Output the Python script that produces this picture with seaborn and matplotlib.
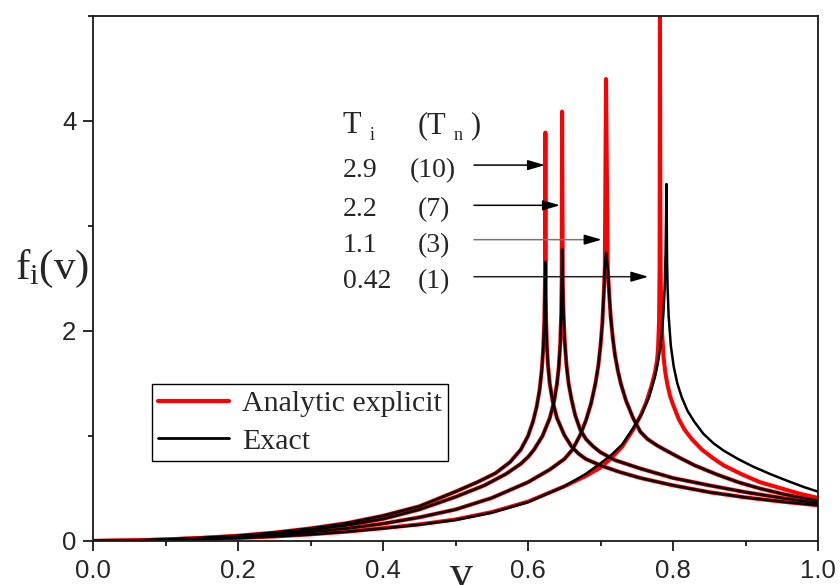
import matplotlib
matplotlib.use("Agg")
import matplotlib.pyplot as plt
from matplotlib.lines import Line2D
from matplotlib.ticker import MultipleLocator, FormatStrFormatter
import seaborn as sns

# ---------------- data ----------------
# Curve 1: Ti = 2.9 (Tn = 10)
v1 = [0.0, 0.05, 0.1, 0.15, 0.2, 0.25, 0.3, 0.35, 0.4, 0.45, 0.5, 0.53, 0.555, 0.575, 0.59,
      0.6, 0.607, 0.612, 0.616, 0.619, 0.621, 0.6225, 0.6235, 0.624, 0.6245, 0.625, 0.626,
      0.6275, 0.63, 0.634, 0.64, 0.65, 0.66, 0.67, 0.68, 0.7, 0.725, 0.755, 0.8, 0.85, 0.9,
      0.95, 1.0]
exact1 = [0.0, 0.005, 0.015, 0.03, 0.05, 0.08, 0.12, 0.17, 0.24, 0.33, 0.47, 0.56, 0.645, 0.75, 0.87,
          1.0, 1.14, 1.28, 1.44, 1.63, 1.83, 2.1, 2.5, 2.66, 2.35, 2.1, 1.87,
          1.68, 1.5, 1.33, 1.17, 1.01, 0.90, 0.83, 0.78, 0.72, 0.66, 0.60, 0.53, 0.465, 0.415,
          0.375, 0.34]
analytic1 = [0.0, 0.005, 0.015, 0.03, 0.05, 0.08, 0.12, 0.17, 0.24, 0.33, 0.47, 0.56, 0.645, 0.75, 0.87,
             1.0, 1.14, 1.28, 1.44, 1.63, 1.83, 2.1, 2.5, 3.89, 2.35, 2.1, 1.87,
             1.68, 1.5, 1.33, 1.17, 1.01, 0.90, 0.83, 0.78, 0.72, 0.66, 0.60, 0.53, 0.465, 0.415,
             0.375, 0.34]

# Curve 2: Ti = 2.2 (Tn = 7)
v2 = [0.0, 0.05, 0.1, 0.15, 0.2, 0.25, 0.3, 0.35, 0.4, 0.45, 0.5, 0.54, 0.57, 0.59, 0.6, 0.608,
      0.62, 0.63, 0.636, 0.64, 0.6425, 0.6445, 0.6458, 0.6465, 0.647, 0.648, 0.649, 0.6505,
      0.653, 0.656, 0.66, 0.665, 0.672, 0.68, 0.69, 0.7, 0.72, 0.755, 0.8, 0.85, 0.9, 0.95, 1.0]
exact2 = [0.0, 0.004, 0.014, 0.028, 0.046, 0.072, 0.107, 0.15, 0.21, 0.30, 0.42, 0.53, 0.64, 0.735, 0.80, 0.867,
          1.0, 1.17, 1.33, 1.5, 1.66, 1.88, 2.16, 2.48, 2.78, 2.45, 2.17, 1.92,
          1.68, 1.5, 1.35, 1.2, 1.06, 0.97, 0.90, 0.845, 0.77, 0.69, 0.60, 0.53, 0.465, 0.41, 0.36]
analytic2 = [0.0, 0.004, 0.014, 0.028, 0.046, 0.072, 0.107, 0.15, 0.21, 0.30, 0.42, 0.53, 0.64, 0.735, 0.80, 0.867,
             1.0, 1.17, 1.33, 1.5, 1.66, 1.88, 2.16, 2.48, 4.09, 2.45, 2.17, 1.92,
             1.68, 1.5, 1.35, 1.2, 1.06, 0.97, 0.90, 0.845, 0.77, 0.69, 0.60, 0.53, 0.465, 0.41, 0.36]

# Curve 3: Ti = 1.1 (Tn = 3)
v3 = [0.0, 0.05, 0.1, 0.15, 0.2, 0.25, 0.3, 0.35, 0.4, 0.45, 0.5, 0.55, 0.6, 0.63, 0.65, 0.661,
      0.672, 0.68, 0.687, 0.693, 0.697, 0.700, 0.7025, 0.7045, 0.706, 0.7076, 0.710, 0.712,
      0.714, 0.717, 0.720, 0.724, 0.728, 0.735, 0.745, 0.755, 0.765, 0.778, 0.791, 0.81, 0.83,
      0.86, 0.89, 0.92, 0.95, 0.975, 1.0]
exact3 = [0.0, 0.003, 0.011, 0.022, 0.037, 0.057, 0.085, 0.12, 0.165, 0.225, 0.30, 0.41, 0.56, 0.68, 0.78, 0.867,
          1.01, 1.15, 1.31, 1.5, 1.67, 1.86, 2.07, 2.35, 2.6, 2.75, 2.6, 2.35,
          2.14, 1.93, 1.77, 1.62, 1.5, 1.34, 1.17, 1.04, 0.97, 0.91, 0.86, 0.79, 0.72,
          0.635, 0.56, 0.50, 0.45, 0.415, 0.385]
analytic3 = [0.0, 0.003, 0.011, 0.022, 0.037, 0.057, 0.085, 0.12, 0.165, 0.225, 0.30, 0.41, 0.56, 0.68, 0.78, 0.867,
             1.01, 1.15, 1.31, 1.5, 1.67, 1.86, 2.07, 2.35, 2.6, 4.40, 2.6, 2.35,
             2.14, 1.93, 1.77, 1.62, 1.5, 1.34, 1.17, 1.04, 0.97, 0.91, 0.86, 0.79, 0.72,
             0.635, 0.56, 0.50, 0.45, 0.415, 0.385]

# Curve 4: Ti = 0.42 (Tn = 1)
v4_exact = [0.0, 0.05, 0.1, 0.15, 0.2, 0.25, 0.3, 0.35, 0.4, 0.45, 0.5, 0.55, 0.6, 0.65, 0.68, 0.70,
            0.715, 0.73, 0.745, 0.757, 0.767, 0.775, 0.779, 0.782, 0.7846, 0.7866, 0.7884, 0.7898,
            0.791, 0.7918, 0.7925, 0.794, 0.797, 0.801, 0.806, 0.812, 0.82, 0.829, 0.842, 0.856,
            0.87, 0.89, 0.91, 0.935, 0.957, 0.98, 1.0]
exact4 = [0.0, 0.002, 0.008, 0.017, 0.028, 0.043, 0.062, 0.088, 0.12, 0.155, 0.20, 0.27, 0.37, 0.52, 0.64, 0.74,
          0.82, 0.92, 1.075, 1.21, 1.37, 1.56, 1.69, 1.82, 1.98, 2.15, 2.39, 2.74,
          3.40, 2.67, 2.42, 2.14, 1.86, 1.66, 1.5, 1.37, 1.24, 1.14, 1.02, 0.93,
          0.86, 0.78, 0.71, 0.635, 0.575, 0.515, 0.47]
v4_analytic = [0.0, 0.05, 0.1, 0.15, 0.2, 0.25, 0.3, 0.35, 0.4, 0.45, 0.5, 0.55, 0.6, 0.65, 0.68, 0.70,
               0.715, 0.73, 0.745, 0.755, 0.763, 0.77, 0.775, 0.778, 0.7795, 0.7808, 0.7815, 0.782,
               0.7825, 0.783, 0.7838, 0.785, 0.787, 0.7895, 0.792, 0.796, 0.8, 0.808, 0.816, 0.826,
               0.84, 0.855, 0.87, 0.895, 0.92, 0.95, 0.975, 1.0]
analytic4 = [0.0, 0.002, 0.008, 0.017, 0.028, 0.043, 0.063, 0.089, 0.122, 0.158, 0.205, 0.275, 0.375, 0.52, 0.62, 0.70,
             0.79, 0.90, 1.06, 1.19, 1.32, 1.47, 1.6, 1.72, 1.85, 2.1, 2.6, 5.0,
             3.2, 2.5, 2.2, 1.98, 1.75, 1.6, 1.5, 1.38, 1.3, 1.16, 1.06, 0.97,
             0.87, 0.79, 0.72, 0.635, 0.56, 0.50, 0.45, 0.41]

# annotation table
ti_labels = ["2.9", "2.2", "1.1", "0.42"]
tn_labels = ["(10)", "(7)", "(3)", "(1)"]
row_baselines = [3.467, 3.095, 2.755, 2.41]
arrow_levels = [3.58, 3.197, 2.87, 2.517]
arrow_tips = [0.6234, 0.6441, 0.7016, 0.766]
arrow_line_colors = ["black", "black", "#777777", "#222222"]

legend_labels = ["Analytic explicit", "Exact"]

# ---------------- styling ----------------
sns.set_style("ticks")
plt.rcParams["font.family"] = ["Liberation Sans", "DejaVu Sans"]
plt.rcParams["mathtext.fontset"] = "custom"
plt.rcParams["mathtext.rm"] = "Liberation Serif"
plt.rcParams["mathtext.it"] = "Liberation Serif:italic"
SERIF = ["Liberation Serif", "DejaVu Serif"]

fig = plt.figure(figsize=(8.4, 5.85), dpi=100)
ax = fig.add_axes([93 / 840, 44 / 585, 725 / 840, 525 / 585])

RED_LW, BLACK_LW = 2.9, 1.8
analytic_sets = [(v1, analytic1), (v2, analytic2), (v3, analytic3), (v4_analytic, analytic4)]
exact_sets = [(v1, exact1), (v2, exact2), (v3, exact3), (v4_exact, exact4)]
for vv, ff in analytic_sets:
    sns.lineplot(x=vv, y=ff, ax=ax, color="#ff0000", lw=RED_LW, sort=False,
                 estimator=None, legend=False)
for vv, ff in exact_sets:
    sns.lineplot(x=vv, y=ff, ax=ax, color="black", lw=BLACK_LW, sort=False,
                 estimator=None, legend=False)

ax.set_xlim(0, 1.0)
ax.set_ylim(0, 5)
ax.xaxis.set_major_locator(MultipleLocator(0.2))
ax.xaxis.set_minor_locator(MultipleLocator(0.1))
ax.yaxis.set_major_locator(MultipleLocator(2))
ax.yaxis.set_minor_locator(MultipleLocator(1))
ax.xaxis.set_major_formatter(FormatStrFormatter("%.1f"))
ax.yaxis.set_major_formatter(FormatStrFormatter("%d"))

for s in ax.spines.values():
    s.set_visible(True)
    s.set_linewidth(1.3)
    s.set_color("#1a1a1a")
ax.tick_params(which="both", direction="out", top=False, right=False, width=1.3,
               color="#1a1a1a")
ax.tick_params(which="major", length=7)
ax.tick_params(which="minor", length=3.6)
ax.tick_params(axis="x", which="major", labelsize=18.5, pad=6)
ax.tick_params(axis="y", which="major", labelsize=18.5, pad=5)

# axis labels
ax.set_xlabel("v", fontsize=33, family=SERIF)
ax.xaxis.set_label_coords((461.3 - 93) / 725, (541 - 587) / 526)
ax.xaxis.label.set_va("baseline")
ax.xaxis.label.set_ha("center")
ax.set_ylabel(r"$\mathrm{f_i(v)}$", fontsize=31, rotation=0)
ax.yaxis.set_label_coords((15 - 93) / 725, (541 - 278) / 526)
ax.yaxis.label.set_ha("left")
ax.yaxis.label.set_va("baseline")

# annotation header and rows
TXT = 20
ax.text(0.3443, 3.883, "T", fontsize=22, family=SERIF, ha="left", va="baseline")
ax.text(0.381, 3.82, "i", fontsize=13, family=SERIF, ha="left", va="baseline")
ax.text(0.4473, 3.883, "(T", fontsize=22, family=SERIF, ha="left", va="baseline")
ax.text(0.498, 3.82, "n", fontsize=13, family=SERIF, ha="left", va="baseline")
ax.text(0.52, 3.883, ")", fontsize=22, family=SERIF, ha="left", va="baseline")
for lab, tn, yb in zip(ti_labels, tn_labels, row_baselines):
    ax.text(0.3443, yb, lab, fontsize=TXT, family=SERIF, ha="left", va="baseline")
    xp = 0.4372 if len(tn) == 4 else 0.4473
    ax.text(xp, yb, tn, fontsize=TXT, family=SERIF, ha="left", va="baseline")

ARROW = "-|>,head_length=0.75,head_width=0.22"
for yl, tip, col in zip(arrow_levels, arrow_tips, arrow_line_colors):
    # shaft
    ax.annotate("", xy=(tip - 0.01, yl), xytext=(0.5255, yl),
                arrowprops=dict(arrowstyle="-", color=col, lw=1.1,
                                shrinkA=0, shrinkB=0))
    # black head
    ax.annotate("", xy=(tip, yl), xytext=(tip - 0.02, yl),
                arrowprops=dict(arrowstyle=ARROW, mutation_scale=14, color="black",
                                lw=1.1, shrinkA=0, shrinkB=0))

# legend
handles = [Line2D([], [], color="#ff0000", lw=3.0), Line2D([], [], color="black", lw=2.0)]
leg = ax.legend(handles, legend_labels, loc="upper left",
                bbox_to_anchor=((151.7 - 93) / 725, (541 - 384) / 526),
                borderaxespad=0, prop={"family": SERIF, "size": 21.5},
                frameon=True, fancybox=False, shadow=False, framealpha=1,
                edgecolor="black", handlelength=2.4, handletextpad=0.42,
                borderpad=0.2, labelspacing=0.36)
leg.get_frame().set_linewidth(1.0)

fig.savefig("out.png", dpi=100)
